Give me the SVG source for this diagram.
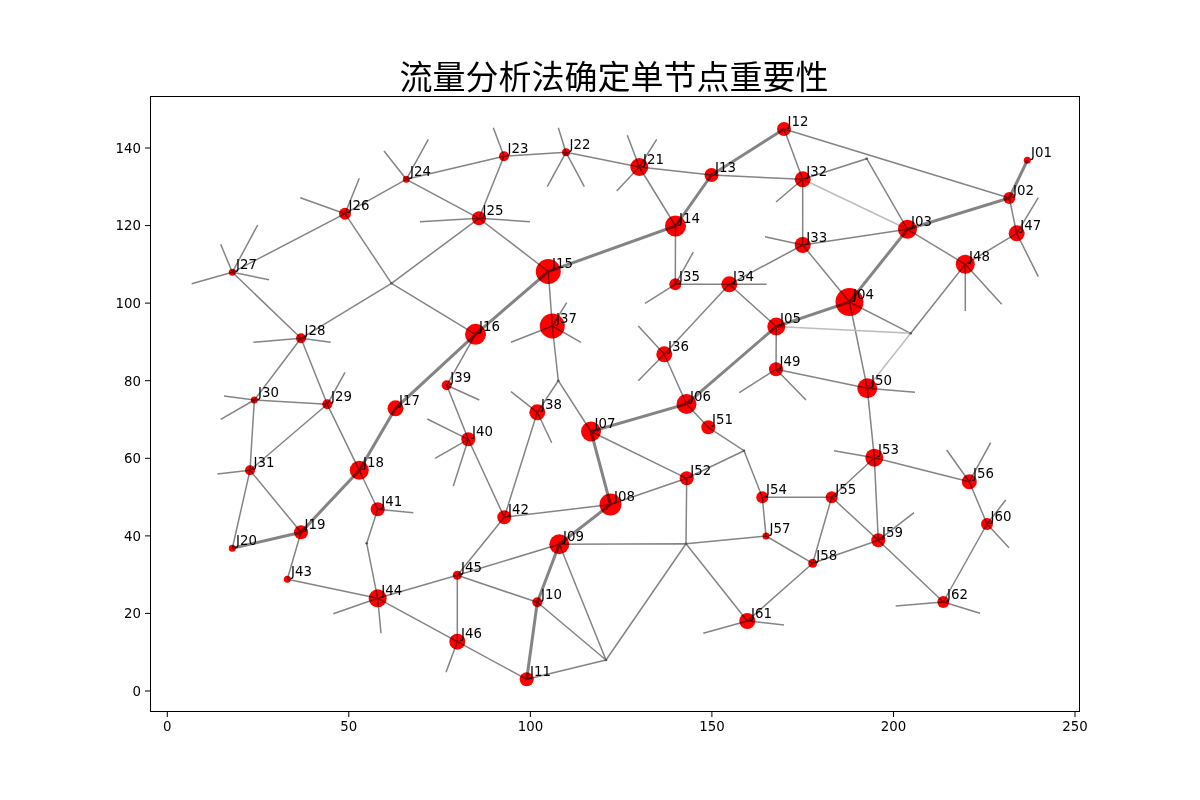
<svg xmlns="http://www.w3.org/2000/svg" width="1200" height="800" viewBox="0 0 1200 800">
<style>
.e{stroke:#7a7a7a;stroke-width:1.5;fill:none;stroke-linecap:butt;opacity:0.92}
.t{stroke:#7a7a7a;stroke-width:3;fill:none;opacity:0.92}
.l{stroke:#bdbdbd;stroke-width:1.5;fill:none}
.n circle{fill:#ff0000;mix-blend-mode:multiply}
.n text{font-family:"DejaVu Sans",sans-serif;font-size:13.33px;fill:#000}
.tk{stroke:#000;stroke-width:1}
.tl{font-family:"DejaVu Sans",sans-serif;font-size:13.33px;fill:#000}
.j{fill:#555}
</style>
<rect width="1200" height="800" fill="#fff"/>
<text x="614" y="89" text-anchor="middle" font-family="Noto Sans CJK SC, sans-serif" font-size="33" fill="#000">流量分析法确定单节点重要性</text>
<rect x="150.5" y="96.5" width="929" height="615" fill="none" stroke="#000" stroke-width="1"/>
<g id="axes">
<g class="tk">
<line x1="167.3" y1="712" x2="167.3" y2="717"/><line x1="348.8" y1="712" x2="348.8" y2="717"/><line x1="530.4" y1="712" x2="530.4" y2="717"/><line x1="711.9" y1="712" x2="711.9" y2="717"/><line x1="893.5" y1="712" x2="893.5" y2="717"/><line x1="1075" y1="712" x2="1075" y2="717"/>
<line x1="145" y1="691" x2="150" y2="691"/><line x1="145" y1="613.4" x2="150" y2="613.4"/><line x1="145" y1="535.9" x2="150" y2="535.9"/><line x1="145" y1="458.3" x2="150" y2="458.3"/><line x1="145" y1="380.7" x2="150" y2="380.7"/><line x1="145" y1="303.1" x2="150" y2="303.1"/><line x1="145" y1="225.6" x2="150" y2="225.6"/><line x1="145" y1="148" x2="150" y2="148"/>
</g>
<g class="tl" text-anchor="middle">
<text x="167.3" y="731">0</text><text x="348.8" y="731">50</text><text x="530.4" y="731">100</text><text x="711.9" y="731">150</text><text x="893.5" y="731">200</text><text x="1075" y="731">250</text>
</g>
<g class="tl" text-anchor="end">
<text x="141" y="695.8">0</text><text x="141" y="618.2">20</text><text x="141" y="540.7">40</text><text x="141" y="463.1">60</text><text x="141" y="385.5">80</text><text x="141" y="307.9">100</text><text x="141" y="230.4">120</text><text x="141" y="152.8">140</text>
</g>
</g>
<g id="connectors">
<g class="e">
<path d="M232.3 272.3L191.7 283.7M232.3 272.3L220.7 244.3M232.3 272.3L257.7 225M232.3 272.3L269 279.7"/>
<path d="M345 213.7L300.3 197.7M345 213.7L359.3 178.3M406.3 179.3L384 151M406.3 179.3L428.3 139.3M504 156.3L493.3 127.7"/>
<path d="M566 152.3L558.3 127.7M566 152.3L547.3 186.7M566 152.3L584.3 186.7M639.3 167L627.3 135.3M639.3 167L656.7 139.3M639.3 167L616.7 191"/>
<path d="M479 218.3L420 221.7M479 218.3L530 221.7M802.7 179.3L776 202M802.7 245L765 236.7M675.3 284.3L693.3 252M675.3 284.3L645 303.3M729.3 284.3L766.7 284.3"/>
<path d="M1016.7 233.3L1038.3 197.7M1016.7 233.3L1038.3 276.7M965.3 264.3L965.3 311M965.3 264.3L1001.7 304.3"/>
<path d="M552.3 326L511 342.3M552.3 326L581 342.3M552.3 326L566.7 302.7M664.3 354.3L638.3 326M664.3 354.3L638.3 380.7"/>
<path d="M776 369.3L739.3 392.7M776 369.3L806 400M867.3 388.3L915 392.3M874.3 457.7L834 450.7M969.3 481.7L946.7 450M969.3 481.7L990.7 442.7"/>
<path d="M987 524L1009 547.7M987 524L1005.7 500M878.3 540.3L914 512.7M943.3 602L895.7 606M943.3 602L980 613.3M747.3 621L703.3 633.3M747.3 621L784 625"/>
<path d="M301 338.3L253.3 342.3M301 338.3L330.7 342.3M327.3 404.3L345 372.3M254.3 400L224 396M254.3 400L220.7 419.3M250 470.3L217.3 474"/>
<path d="M446.7 385.3L479.3 400M468.3 439.3L427.3 419M468.3 439.3L435 458.3M468.3 439.3L453.3 486M537.3 412.3L511 391.7M537.3 412.3L551.7 442.7"/>
<path d="M377.7 509.3L413.3 512.7M377.7 598.3L333.3 613.7M377.7 598.3L381 633.3M457.3 641.7L446 672.3"/>
<path d="M345 213.7L406.3 179.3M345 213.7L232.3 272.3M345 213.7L391.5 283.3M406.3 179.3L504 156.3M406.3 179.3L479 218.3M504 156.3L566 152.3M504 156.3L479 218.3M566 152.3L639.3 167"/>
<path d="M639.3 167L711.5 175M639.3 167L675.5 226M479 218.3L548.3 271.5M479 218.3L391.5 283.3M391.5 283.3L475.5 334.3M391.5 283.3L301 338.3M232.3 272.3L301 338.3"/>
<path d="M301 338.3L254.3 400M301 338.3L327.3 404.3M254.3 400L327.3 404.3M254.3 400L250 470.3M327.3 404.3L250 470.3M327.3 404.3L359.3 470.3M250 470.3L232.3 548.3M250 470.3L301 532.3"/>
<path d="M301 532.3L287.3 579.3M287.3 579.3L377.7 598.3M359.3 470.3L377.7 509.3M377.7 509.3L366.7 543.3L377.7 598.3M377.7 598.3L457.3 575.3M377.7 598.3L457.3 641.7"/>
<path d="M457.3 575.3L504.3 517.3M457.3 575.3L559.3 544.3M457.3 575.3L537.3 602.3M457.3 575.3L457.3 641.7M457.3 641.7L526.7 679.3M526.7 679.3L606 660M537.3 602.3L606 660M559.3 544.3L606 660M606 660L686 543.7M559.3 544.3L686 543.7"/>
<path d="M686 543.7L686.7 478.3M686 543.7L766 536M686 543.7L747.3 621M747.3 621L812.7 563.3M766 536L812.7 563.3M766 536L762.3 497.3M812.7 563.3L831.7 497.3M812.7 563.3L878.3 540.3M831.7 497.3L878.3 540.3M762.3 497.3L831.7 497.3"/>
<path d="M762.3 497.3L744 450.7L708.3 427.3M744 450.7L686.7 478.3M708.3 427.3L686.5 404M686.7 478.3L591 431.5M686.7 478.3L610.5 504.5M610.5 504.5L504.3 517.3M504.3 517.3L468.3 439.3M504.3 517.3L537.3 412.3"/>
<path d="M468.3 439.3L446.7 385.3M446.7 385.3L475.5 334.3M537.3 412.3L558.3 380.7L552.3 326M558.3 380.7L591 431.5M552.3 326L548.3 271.5M686.5 404L664.3 354.3M664.3 354.3L729.3 284.3M729.3 284.3L675.3 284.3M675.3 284.3L675.5 226"/>
<path d="M729.3 284.3L802.7 245M729.3 284.3L776.3 326.5M802.7 245L802.7 179.3M802.7 245L907.5 229.3M802.7 245L849.5 302M802.7 179.3L711.5 175M802.7 179.3L784 129M802.7 179.3L866.7 158.7L907.5 229.3M784 129L1009.3 198"/>
<path d="M1009.3 198L1016.7 233.3M1016.7 233.3L965.3 264.3M965.3 264.3L907.5 229.3M965.3 264.3L910.7 333.3L849.5 302M849.5 302L867.3 388.3M776.3 326.5L776 369.3M776 369.3L867.3 388.3M867.3 388.3L874.3 457.7"/>
<path d="M874.3 457.7L969.3 481.7M874.3 457.7L831.7 497.3M874.3 457.7L878.3 540.3M969.3 481.7L987 524M987 524L943.3 602M943.3 602L878.3 540.3"/>
</g>
<g class="l">
<path d="M802.7 179.3L907.5 229.3M776.3 326.5L910.7 333.3L867.3 388.3"/>
</g>
<g class="t">
<path d="M1027.3 160.3L1009.3 198L907.5 229.3L849.5 302L776.3 326.5L686.5 404L591 431.5L610.5 504.5L559.3 544.3L537.3 602.3L526.7 679.3"/>
<path d="M784 129L711.5 175L675.5 226L548.3 271.5L475.5 334.3L395.5 408.3L359.3 470.3L301 532.3L232.3 548.3"/>
</g>
<g class="j">
<circle cx="391.5" cy="283.3" r="1.3"/><circle cx="866.7" cy="158.7" r="1.3"/><circle cx="910.7" cy="333.3" r="1.3"/><circle cx="744" cy="450.7" r="1.3"/><circle cx="558.3" cy="380.7" r="1.3"/><circle cx="366.7" cy="543.3" r="1.3"/><circle cx="606" cy="660" r="1.3"/><circle cx="686" cy="543.7" r="1.3"/>
</g>
</g>
<g id="nodes" class="n">
<g id="J01"><circle cx="1027.3" cy="160.3" r="3.5"/><text x="1031" y="157">J01</text></g>
<g id="J02"><circle cx="1009.3" cy="198" r="6"/><text x="1013" y="194.5">J02</text></g>
<g id="J03"><circle cx="907.5" cy="229.3" r="9.5"/><text x="911" y="226">J03</text></g>
<g id="J04"><circle cx="849.5" cy="302" r="14"/><text x="853" y="298.5">J04</text></g>
<g id="J05"><circle cx="776.3" cy="326.5" r="9"/><text x="780" y="323">J05</text></g>
<g id="J06"><circle cx="686.5" cy="404" r="10"/><text x="690" y="400.5">J06</text></g>
<g id="J07"><circle cx="591" cy="431.5" r="10"/><text x="594.5" y="428">J07</text></g>
<g id="J08"><circle cx="610.5" cy="504.5" r="11"/><text x="614" y="501">J08</text></g>
<g id="J09"><circle cx="559.3" cy="544.3" r="10"/><text x="563" y="541">J09</text></g>
<g id="J10"><circle cx="537.3" cy="602.3" r="5"/><text x="541" y="599">J10</text></g>
<g id="J11"><circle cx="526.7" cy="679.3" r="7"/><text x="530" y="676">J11</text></g>
<g id="J12"><circle cx="784" cy="129" r="7"/><text x="787.5" y="125.5">J12</text></g>
<g id="J13"><circle cx="711.5" cy="175" r="7"/><text x="715" y="171.5">J13</text></g>
<g id="J14"><circle cx="675.5" cy="226" r="10.5"/><text x="679" y="222.5">J14</text></g>
<g id="J15"><circle cx="548.3" cy="271.5" r="12.5"/><text x="552" y="268">J15</text></g>
<g id="J16"><circle cx="475.5" cy="334.3" r="10.5"/><text x="479" y="331">J16</text></g>
<g id="J17"><circle cx="395.5" cy="408.3" r="8"/><text x="399" y="405">J17</text></g>
<g id="J18"><circle cx="359.3" cy="470.3" r="9.5"/><text x="363" y="467">J18</text></g>
<g id="J19"><circle cx="301" cy="532.3" r="7"/><text x="304.5" y="529">J19</text></g>
<g id="J20"><circle cx="232.3" cy="548.3" r="3.5"/><text x="236" y="545">J20</text></g>
<g id="J21"><circle cx="639.3" cy="167" r="9"/><text x="643" y="163.5">J21</text></g>
<g id="J22"><circle cx="566" cy="152.3" r="4"/><text x="569.5" y="149">J22</text></g>
<g id="J23"><circle cx="504" cy="156.3" r="5"/><text x="507.5" y="153">J23</text></g>
<g id="J24"><circle cx="406.3" cy="179.3" r="3.5"/><text x="410" y="176">J24</text></g>
<g id="J25"><circle cx="479" cy="218.3" r="7"/><text x="482.5" y="215">J25</text></g>
<g id="J26"><circle cx="345" cy="213.7" r="6"/><text x="348.5" y="210.3">J26</text></g>
<g id="J27"><circle cx="232.3" cy="272.3" r="3.5"/><text x="236" y="269">J27</text></g>
<g id="J28"><circle cx="301" cy="338.3" r="5"/><text x="304.5" y="335">J28</text></g>
<g id="J29"><circle cx="327.3" cy="404.3" r="5"/><text x="331" y="401">J29</text></g>
<g id="J30"><circle cx="254.3" cy="400" r="3.5"/><text x="258" y="396.5">J30</text></g>
<g id="J31"><circle cx="250" cy="470.3" r="5"/><text x="253.5" y="467">J31</text></g>
<g id="J32"><circle cx="802.7" cy="179.3" r="8"/><text x="806.3" y="176">J32</text></g>
<g id="J33"><circle cx="802.7" cy="245" r="8"/><text x="806.3" y="241.5">J33</text></g>
<g id="J34"><circle cx="729.3" cy="284.3" r="8"/><text x="733" y="281">J34</text></g>
<g id="J35"><circle cx="675.3" cy="284.3" r="6"/><text x="679" y="281">J35</text></g>
<g id="J36"><circle cx="664.3" cy="354.3" r="8"/><text x="668" y="351">J36</text></g>
<g id="J37"><circle cx="552.3" cy="326" r="12.5"/><text x="556" y="322.5">J37</text></g>
<g id="J38"><circle cx="537.3" cy="412.3" r="8"/><text x="541" y="409">J38</text></g>
<g id="J39"><circle cx="446.7" cy="385.3" r="5"/><text x="450.3" y="382">J39</text></g>
<g id="J40"><circle cx="468.3" cy="439.3" r="7"/><text x="472" y="436">J40</text></g>
<g id="J41"><circle cx="377.7" cy="509.3" r="7"/><text x="381.3" y="506">J41</text></g>
<g id="J42"><circle cx="504.3" cy="517.3" r="7"/><text x="508" y="514">J42</text></g>
<g id="J43"><circle cx="287.3" cy="579.3" r="3.5"/><text x="291" y="576">J43</text></g>
<g id="J44"><circle cx="377.7" cy="598.3" r="9"/><text x="381.3" y="595">J44</text></g>
<g id="J45"><circle cx="457.3" cy="575.3" r="4.5"/><text x="461" y="572">J45</text></g>
<g id="J46"><circle cx="457.3" cy="641.7" r="8"/><text x="461" y="638.3">J46</text></g>
<g id="J47"><circle cx="1016.7" cy="233.3" r="8"/><text x="1020.3" y="230">J47</text></g>
<g id="J48"><circle cx="965.3" cy="264.3" r="9.5"/><text x="969" y="261">J48</text></g>
<g id="J49"><circle cx="776" cy="369.3" r="7"/><text x="779.5" y="366">J49</text></g>
<g id="J50"><circle cx="867.3" cy="388.3" r="10"/><text x="871" y="385">J50</text></g>
<g id="J51"><circle cx="708.3" cy="427.3" r="7"/><text x="712" y="424">J51</text></g>
<g id="J52"><circle cx="686.7" cy="478.3" r="7"/><text x="690.3" y="475">J52</text></g>
<g id="J53"><circle cx="874.3" cy="457.7" r="9"/><text x="878" y="454.3">J53</text></g>
<g id="J54"><circle cx="762.3" cy="497.3" r="6"/><text x="766" y="494">J54</text></g>
<g id="J55"><circle cx="831.7" cy="497.3" r="6"/><text x="835.3" y="494">J55</text></g>
<g id="J56"><circle cx="969.3" cy="481.7" r="7.5"/><text x="973" y="478.3">J56</text></g>
<g id="J57"><circle cx="766" cy="536" r="3.5"/><text x="769.5" y="532.5">J57</text></g>
<g id="J58"><circle cx="812.7" cy="563.3" r="4.5"/><text x="816.3" y="560">J58</text></g>
<g id="J59"><circle cx="878.3" cy="540.3" r="7"/><text x="882" y="537">J59</text></g>
<g id="J60"><circle cx="987" cy="524" r="6"/><text x="990.5" y="520.5">J60</text></g>
<g id="J61"><circle cx="747.3" cy="621" r="8"/><text x="751" y="617.5">J61</text></g>
<g id="J62"><circle cx="943.3" cy="602" r="6"/><text x="947" y="598.5">J62</text></g>
</g>
</svg>
